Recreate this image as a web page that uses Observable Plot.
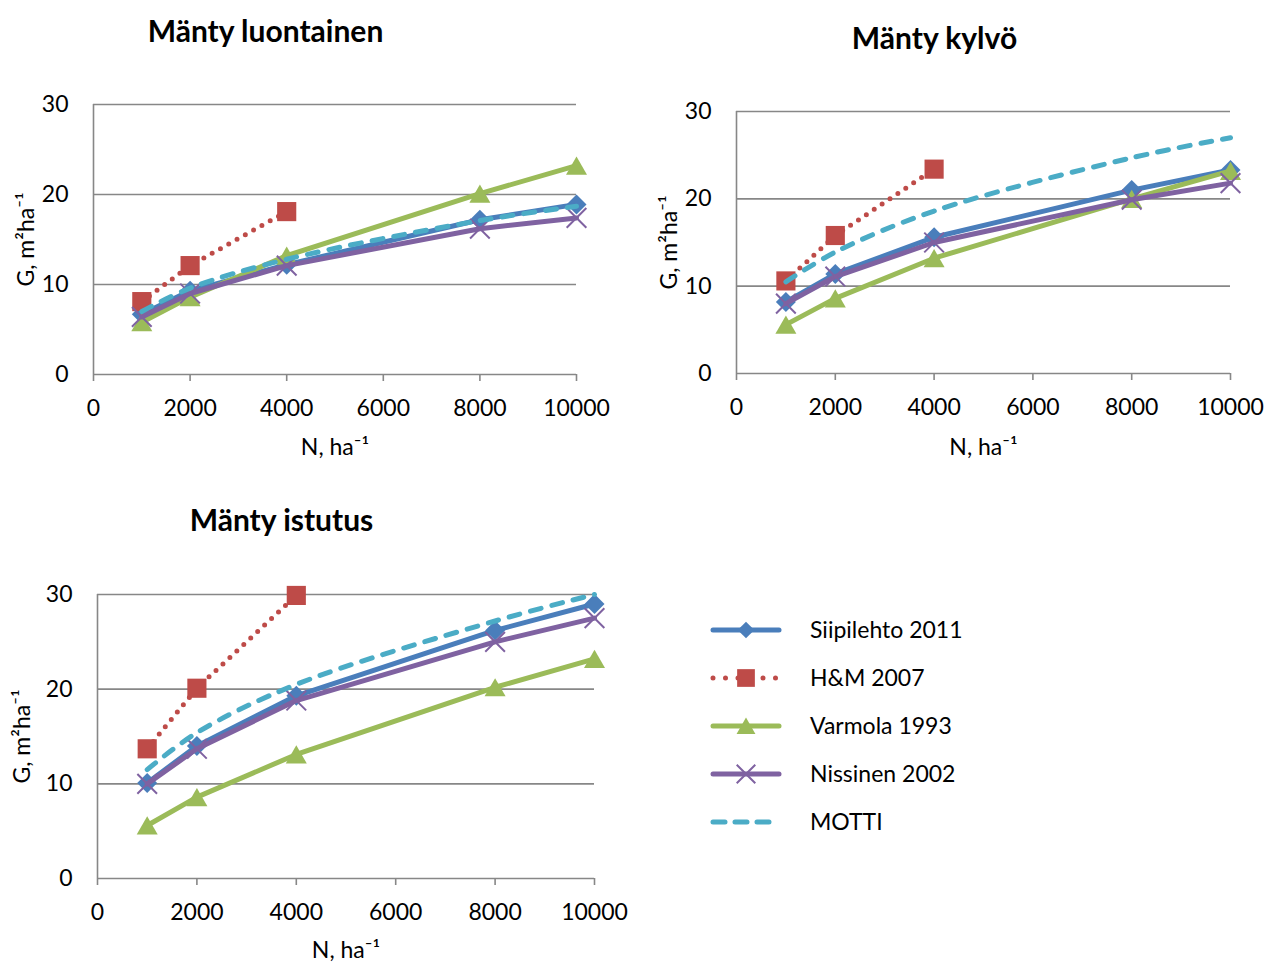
<!DOCTYPE html>
<html><head><meta charset="utf-8">
<script src="https://cdn.jsdelivr.net/npm/d3@7"></script>
<script src="https://cdn.jsdelivr.net/npm/@observablehq/plot@0.6"></script>
<style>
body{margin:0;background:#fff;}
#chart{position:relative;width:1266px;height:963px;font-family:Lato,sans-serif;color:#000;overflow:hidden;}
#chart > svg, #chart > div{position:absolute;}
</style></head><body><div id="chart"></div>
<script>
// ---------- data ----------
const seriesNames = ["Siipilehto 2011", "H&M 2007", "Varmola 1993", "Nissinen 2002", "MOTTI"];
const N = [1000, 2000, 4000, 8000, 10000];
const N_HM = [1000, 2000, 4000];
const xTicks = [0, 2000, 4000, 6000, 8000, 10000];
const yTicks = [0, 10, 20, 30];
const titles = ["Mänty luontainen", "Mänty kylvö", "Mänty istutus"];
const xLabel = "N, ha⁻¹";
const yLabel = "G, m²ha⁻¹";

// Mänty luontainen
const luo_siipilehto = [6.7, 9.3, 12.2, 17.2, 18.9];
const luo_hm = [8.1, 12.1, 18.1];
const luo_varmola = [5.8, 8.6, 13.2, 20.1, 23.2];
const luo_nissinen = [6.4, 9.0, 12.1, 16.2, 17.4];
const luo_motti = [7.0, 9.6, 12.8, 17.1, 18.7];
// Mänty kylvö
const kyl_siipilehto = [8.2, 11.4, 15.6, 21.0, 23.3];
const kyl_hm = [10.6, 15.8, 23.4];
const kyl_varmola = [5.6, 8.6, 13.2, 20.0, 23.2];
const kyl_nissinen = [8.0, 11.1, 15.0, 19.9, 21.8];
const kyl_motti = [10.5, 13.9, 18.6, 24.7, 27.0];
// Mänty istutus
const ist_siipilehto = [10.1, 14.0, 19.3, 26.2, 29.0];
const ist_hm = [13.7, 20.1, 29.9];
const ist_varmola = [5.6, 8.6, 13.1, 20.2, 23.2];
const ist_nissinen = [10.0, 13.7, 18.8, 25.0, 27.5];
const ist_motti = [11.5, 15.4, 20.5, 27.2, 30.0];

// ---------- styles ----------
const colors = ["#4A7EBB", "#BE4B48", "#9BBB59", "#7F62A1", "#4BACC6"];
const grey = "#878787";
const FONT = "Lato, sans-serif";
const TICK_FS = 23;

function rows(xs, ys) { return xs.map((n, i) => ({n, g: ys[i]})); }

function seriesMarks(data) {
  const [s, h, v, ni, m] = data;
  return [
    Plot.line(s, {x: "n", y: "g", stroke: colors[0], strokeWidth: 5, strokeLinecap: "round", strokeLinejoin: "round"}),
    Plot.dot(s, {x: "n", y: "g", symbol: "diamond2", r: 9, fill: colors[0], stroke: "none"}),
    Plot.line(h, {x: "n", y: "g", stroke: colors[1], strokeWidth: 5, strokeDasharray: "0 9.5", strokeLinecap: "round"}),
    Plot.dot(h, {x: "n", y: "g", symbol: "square", r: 10.8, fill: colors[1], stroke: "none"}),
    Plot.line(v, {x: "n", y: "g", stroke: colors[2], strokeWidth: 5, strokeLinecap: "round", strokeLinejoin: "round"}),
    Plot.dot(v, {x: "n", y: "g", symbol: "triangle", r: 7.8, dy: 3, fill: colors[2], stroke: "none"}),
    Plot.line(ni, {x: "n", y: "g", stroke: colors[3], strokeWidth: 5, strokeLinecap: "round", strokeLinejoin: "round"}),
    Plot.dot(ni, {x: "n", y: "g", symbol: "times", r: 9, stroke: colors[3], strokeWidth: 2, fill: "none"}),
    Plot.line(m, {x: "n", y: "g", stroke: colors[4], strokeWidth: 5, strokeDasharray: "11 11", strokeLinecap: "round", curve: "catmull-rom"})
  ];
}

function makePanel(cfg) {
  const data = [
    rows(N, cfg.s), rows(N_HM, cfg.h), rows(N, cfg.v), rows(N, cfg.ni), rows(N, cfg.m)
  ];
  const svg = Plot.plot({
    width: cfg.width, height: cfg.height,
    marginLeft: cfg.ml, marginRight: cfg.mr, marginTop: cfg.mt, marginBottom: cfg.mb,
    style: {fontFamily: FONT, fontSize: TICK_FS + "px", color: "#000", background: "transparent", overflow: "visible"},
    x: {domain: [0, 10000]},
    y: {domain: [0, 30]},
    marks: [
      Plot.gridY([10, 20, 30], {stroke: grey, strokeOpacity: 1, strokeWidth: 1.6}),
      Plot.ruleX([0], {stroke: grey, strokeWidth: 1.6}),
      Plot.ruleY([0], {stroke: grey, strokeWidth: 1.6}),
      Plot.axisX(xTicks, {tickSize: 7, tickPadding: 18, tickFormat: d => String(d), stroke: grey, strokeWidth: 1.6, fontSize: TICK_FS, fill: "#000", label: null}),
      Plot.axisY(yTicks, {tickSize: 0, tickPadding: 25, fontSize: TICK_FS, fill: "#000", label: null}),
      ...seriesMarks(data),
      Plot.text([cfg.title], {frameAnchor: "top-left", text: d => d, dx: cfg.tdx, dy: cfg.tdy, textAnchor: "middle", lineAnchor: "middle", fontWeight: "bold", fontSize: 30, fill: "#000"}),
      Plot.text([xLabel], {frameAnchor: "bottom", text: d => d, dy: cfg.xldy, lineAnchor: "middle", fontSize: TICK_FS, fill: "#000"}),
      Plot.text([yLabel], {frameAnchor: "left", text: d => d, dx: cfg.yldx, rotate: -90, textAnchor: "middle", lineAnchor: "middle", fontSize: TICK_FS, fill: "#000"})
    ]
  });
  svg.style.left = cfg.left + "px";
  svg.style.top = cfg.top + "px";
  return svg;
}

const chart = document.getElementById("chart");
chart.appendChild(makePanel({
  title: titles[0], s: luo_siipilehto, h: luo_hm, v: luo_varmola, ni: luo_nissinen, m: luo_motti,
  left: 0, top: 0, width: 640, height: 480, ml: 93, mr: 64, mt: 104, mb: 106,
  tdx: 172, tdy: -72, xldy: 73, yldx: -67
}));
chart.appendChild(makePanel({
  title: titles[1], s: kyl_siipilehto, h: kyl_hm, v: kyl_varmola, ni: kyl_nissinen, m: kyl_motti,
  left: 640, top: 0, width: 626, height: 480, ml: 96, mr: 36, mt: 111, mb: 107,
  tdx: 198, tdy: -72, xldy: 74, yldx: -67
}));
chart.appendChild(makePanel({
  title: titles[2], s: ist_siipilehto, h: ist_hm, v: ist_varmola, ni: ist_nissinen, m: ist_motti,
  left: 0, top: 490, width: 640, height: 473, ml: 97, mr: 46, mt: 104, mb: 85,
  tdx: 184, tdy: -73, xldy: 72, yldx: -75
}));

// ---------- legend ----------
const leg = d3.select(chart).append("svg")
  .attr("width", 420).attr("height", 250)
  .style("left", "690px").style("top", "600px")
  .style("font-family", FONT).style("font-size", TICK_FS + "px");
const sym = [
  d3.symbol(d3.symbolDiamond2, Math.PI * 7.5 * 7.5),
  d3.symbol(d3.symbolSquare, Math.PI * 10 * 10),
  d3.symbol(d3.symbolTriangle, Math.PI * 7 * 7),
  d3.symbol(d3.symbolTimes, Math.PI * 8.5 * 8.5),
  null
];
seriesNames.forEach((name, i) => {
  const g = leg.append("g").attr("transform", `translate(0,${30 + i * 48})`);
  const ln = g.append("line").attr("x1", 23).attr("x2", 89).attr("y1", 0).attr("y2", 0)
    .attr("stroke", colors[i]).attr("stroke-width", 5).attr("stroke-linecap", "round");
  if (i === 1) ln.attr("stroke-dasharray", "0 12.5");
  if (i === 4) ln.attr("stroke-dasharray", "12 10").attr("x2", 84);
  if (sym[i]) {
    const p = g.append("path").attr("d", sym[i]()).attr("transform", `translate(56,${i === 2 ? 2.5 : 0})`);
    if (i === 3) p.attr("fill", "none").attr("stroke", colors[i]).attr("stroke-width", 2);
    else p.attr("fill", colors[i]);
  }
  g.append("text").attr("x", 120).attr("y", 0).attr("dy", "0.35em").attr("fill", "#000").text(name);
});
</script>
</body></html>
